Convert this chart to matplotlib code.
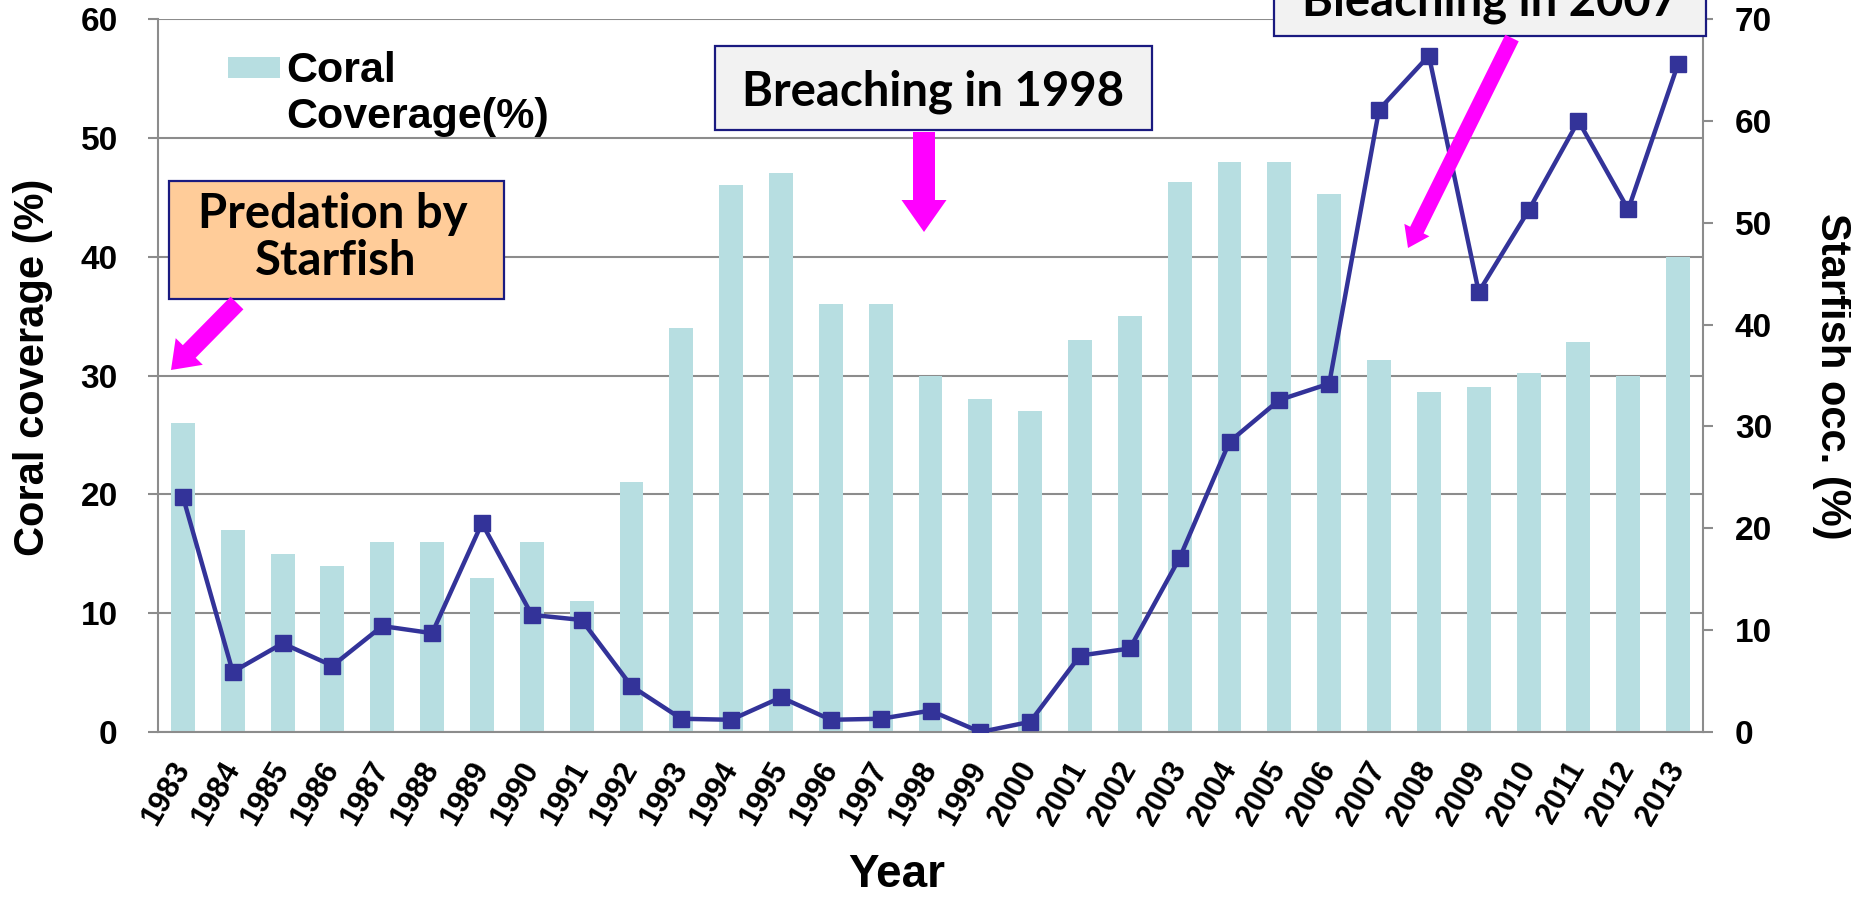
import matplotlib
matplotlib.use("Agg")
import matplotlib.pyplot as plt
from matplotlib.patches import Rectangle, FancyArrow
from matplotlib.transforms import Affine2D

# data
years = list(range(1983, 2014))
coral = [26, 17, 15, 14, 16, 16, 13, 16, 11, 21, 34, 46, 47, 36, 36, 30,
         28, 27, 33, 35, 46.3, 48, 48, 45.3, 31.3, 28.6, 29, 30.2, 32.8, 30, 40]
starfish = [23.1, 5.9, 8.7, 6.5, 10.4, 9.7, 20.5, 11.5, 11.0, 4.5, 1.3, 1.2,
            3.4, 1.2, 1.3, 2.1, 0.0, 1.0, 7.5, 8.2, 17.1, 28.5, 32.6, 34.2,
            61.1, 66.4, 43.2, 51.2, 60.0, 51.3, 65.6]
left_ticks = [0, 10, 20, 30, 40, 50, 60]
right_ticks = [0, 10, 20, 30, 40, 50, 60, 70]

W, H = 1851, 898
BAR = "#B7DEE1"
LINE = "#333399"
GRID = "#8C8C8C"
MAGENTA = "#FF00FF"
EDGE = "#1A1A80"
ARIAL = "Liberation Sans"
CALLOUT = "Lato"

fig = plt.figure(figsize=(W / 100, H / 100), dpi=100)
# pixel coordinates of the image (origin top-left)
px = Affine2D().scale(1, -1).translate(0, H)

ax = fig.add_axes([158 / W, 1 - 732 / H, (1703 - 158) / W, (732 - 19) / H])
x = list(range(len(years)))
ax.bar(x, coral, width=0.48, color=BAR, zorder=2)
ax.set_xlim(-0.5, len(years) - 0.5)
ax.set_ylim(0, 60)
ax.set_yticks(left_ticks)
ax.set_axisbelow(True)
ax.yaxis.grid(True, color=GRID, linewidth=1.5)
ax.set_xticks(x)
ax.set_xticklabels([str(y) for y in years], rotation=60, ha="right", va="center",
                   rotation_mode="anchor", fontsize=22, fontweight="bold", family=ARIAL)
ax.tick_params(axis="x", length=0, pad=23)
ax.tick_params(axis="y", length=7, width=1.5, color=GRID, pad=22, labelsize=24)
for lab in ax.get_yticklabels():
    lab.set_fontweight("bold")
    lab.set_family(ARIAL)
for side in ["top", "right"]:
    ax.spines[side].set_visible(False)
for side in ["left", "bottom"]:
    ax.spines[side].set_color(GRID)
    ax.spines[side].set_linewidth(1.5)

ax2 = ax.twinx()
ax2.plot(x, starfish, color=LINE, linewidth=3.2, marker="s", markersize=11, zorder=3)
ax2.set_ylim(0, 70)
ax2.set_yticks(right_ticks)
ax2.tick_params(axis="y", length=7, width=1.5, color=GRID, pad=16, labelsize=24)
for lab in ax2.get_yticklabels():
    lab.set_fontweight("bold")
    lab.set_family(ARIAL)
for side in ["top", "left", "bottom"]:
    ax2.spines[side].set_visible(False)
ax2.spines["right"].set_color(GRID)
ax2.spines["right"].set_linewidth(1.5)

# axis titles
fig.text(33, 367, "Coral coverage (%)", transform=px, rotation=90, ha="center", va="center",
         fontsize=30, fontweight="bold", family=ARIAL)
fig.text(1832, 376, "Starfish occ. (%)", transform=px, rotation=-90, ha="center", va="center",
         fontsize=30, fontweight="bold", family=ARIAL)
fig.text(897, 887, "Year", transform=px, ha="center", va="baseline",
         fontsize=33, fontweight="bold", family=ARIAL)

# legend
fig.add_artist(Rectangle((228, 57), 52, 21, transform=px, facecolor=BAR, edgecolor="none"))
fig.text(286, 82, "Coral", transform=px, ha="left", va="baseline",
         fontsize=31, fontweight="bold", family=ARIAL)
fig.text(286, 128, "Coverage(%)", transform=px, ha="left", va="baseline",
         fontsize=31, fontweight="bold", family=ARIAL)


def callout(x0, y0, x1, y1, fill, lines):
    fig.add_artist(Rectangle((x0, y0), x1 - x0, y1 - y0, transform=px,
                             facecolor=fill, edgecolor=EDGE, linewidth=1.6, zorder=5))
    for tx, ty, s in lines:
        fig.text(tx, ty, s, transform=px, ha="center", va="baseline", fontsize=34,
                 fontweight="bold", family=CALLOUT, zorder=6)


def block_arrow(x0, y0, x1, y1, shaft, head, head_len):
    fig.add_artist(FancyArrow(x0, y0, x1 - x0, y1 - y0, width=shaft, head_width=head,
                              head_length=head_len, length_includes_head=True,
                              transform=px, color=MAGENTA, linewidth=0, zorder=7))


callout(169, 181, 504, 299, "#FFCC99", [(333, 228, "Predation by"), (336, 275, "Starfish")])
block_arrow(237, 303, 171, 370, 18, 38, 26)

callout(715, 46, 1152, 130, "#F2F2F2", [(933, 105, "Breaching in 1998")])
block_arrow(924, 132, 924, 232, 22, 45, 32)

callout(1274, -48, 1706, 36, "#F2F2F2", [(1490, 15, "Bleaching in 2007")])
block_arrow(1512, 38, 1408, 248, 15, 28, 20)

fig.savefig("out.png", dpi=100)
